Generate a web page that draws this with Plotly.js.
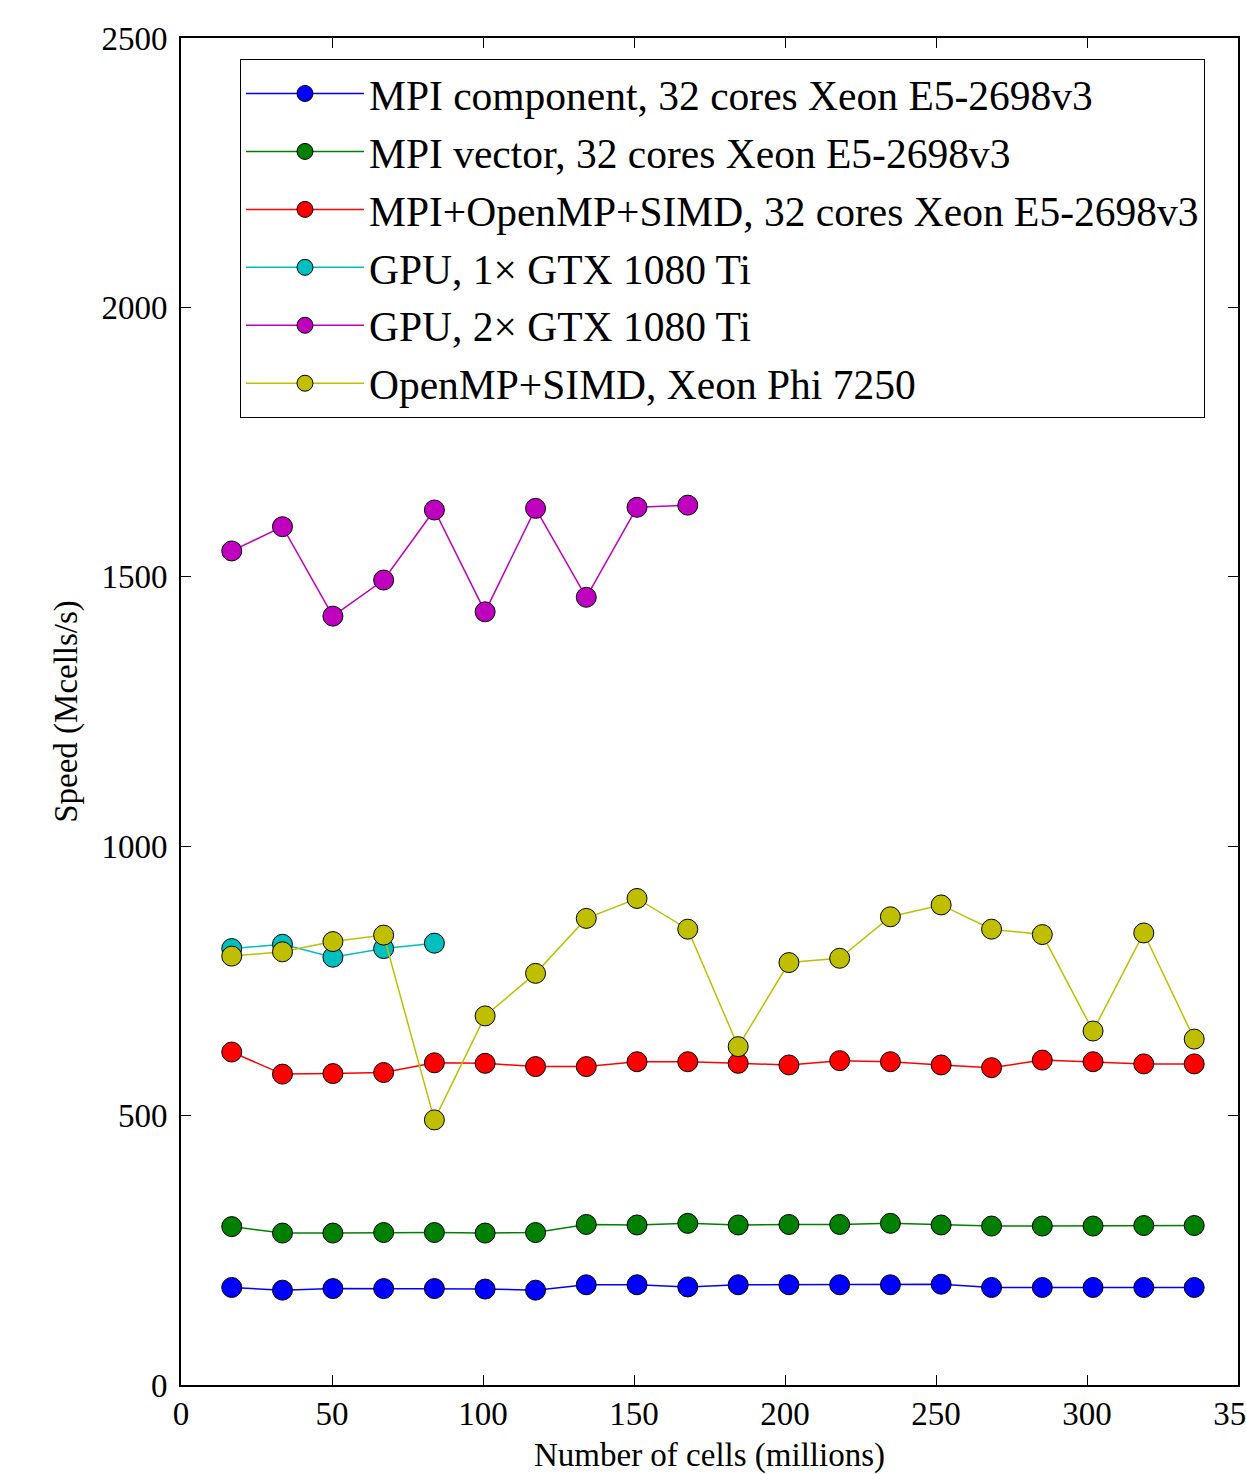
<!DOCTYPE html>
<html>
<head>
<meta charset="utf-8">
<script src="https://cdn.plot.ly/plotly-3.0.1.min.js"></script>
<style>html,body{margin:0;padding:0;background:#fff;}#chart{width:1246px;height:1474px;}</style>
</head>
<body>
<div id="chart"></div>
<script>
// Number of cells (millions)
const cells = [16.8, 33.6, 50.3, 67.1, 83.9, 100.7, 117.4, 134.2, 151.0, 167.8,
               184.5, 201.3, 218.1, 234.9, 251.7, 268.4, 285.2, 302.0, 318.8, 335.5];

const seriesNames = [
  "MPI component, 32 cores Xeon E5-2698v3",
  "MPI vector, 32 cores Xeon E5-2698v3",
  "MPI+OpenMP+SIMD, 32 cores Xeon E5-2698v3",
  "GPU, 1\u00d7 GTX 1080 Ti",
  "GPU, 2\u00d7 GTX 1080 Ti",
  "OpenMP+SIMD, Xeon Phi 7250"
];

// Speed (Mcells/s)
const mpiComponent = [181, 176, 179, 179, 179, 178, 176, 186, 186, 182,
                      186, 186, 186, 186, 187, 181, 181, 181, 181, 181];
const mpiVector = [294, 282, 282, 283, 283, 282, 283, 298, 297, 300,
                   297, 298, 298, 300, 297, 295, 295, 295, 296, 296];
const mpiOmpSimd = [618, 577, 578, 580, 598, 597, 591, 591, 600, 600,
                    597, 594, 602, 600, 594, 589, 603, 600, 596, 596];
const gpu1 = [810, 818, 794, 810, 820];
const gpu2 = [1548, 1593, 1427, 1494, 1624, 1435, 1627, 1462, 1629, 1633];
const xeonPhi = [796, 804, 823, 835, 492, 685, 764, 866, 903, 846,
                 628, 784, 792, 869, 891, 846, 836, 657, 839, 642];

const colors = ["#0000ff", "#008000", "#ff0000", "#00bfbf", "#bf00bf", "#bfbf00"];
const values = [mpiComponent, mpiVector, mpiOmpSimd, gpu1, gpu2, xeonPhi];

const traces = values.map((v, i) => ({
  type: "scatter",
  mode: "lines+markers",
  name: seriesNames[i],
  legendgroup: "g" + i,
  x: cells.slice(0, v.length),
  y: v,
  line: {color: colors[i], width: 1.5},
  marker: {color: colors[i], size: 20, line: {color: "#000", width: 1}}
}));

const font = "Liberation Serif, Times New Roman, serif";

const axisCommon = {
  showline: true, linecolor: "#000", linewidth: 2, mirror: "ticks",
  ticks: "inside", ticklen: 10, tickwidth: 1, tickcolor: "#000",
  showgrid: false, zeroline: false,
  tickfont: {family: font, size: 33, color: "#000"},
  ticklabeloverflow: "allow"
};

const layout = {
  width: 1246, height: 1474,
  margin: {l: 181, r: 8, t: 38, b: 89},
  paper_bgcolor: "#fff", plot_bgcolor: "#fff",
  font: {family: font, color: "#000"},
  showlegend: true,
  xaxis: Object.assign({}, axisCommon, {
    range: [0, 350], dtick: 50, tick0: 0, ticklabelstandoff: -2,
    title: {text: "Number of cells (millions)", font: {family: font, size: 33, color: "#000"}, standoff: 18}
  }),
  yaxis: Object.assign({}, axisCommon, {
    range: [0, 2500], dtick: 500, tick0: 0, ticklabelstandoff: 5,
    title: {text: "Speed (Mcells/s)", font: {family: font, size: 33, color: "#000"}, standoff: 14}
  }),
  legend: {
    x: 0.0558, y: 0.9844, xanchor: "left", yanchor: "top",
    bgcolor: "#fff", bordercolor: "#000", borderwidth: 1,
    font: {family: font, size: 41.5, color: "#000"},
    itemwidth: 118, tracegroupgap: 1
  }
};

Plotly.newPlot("chart", traces, layout, {displayModeBar: false, staticPlot: true});
</script>
</body>
</html>
